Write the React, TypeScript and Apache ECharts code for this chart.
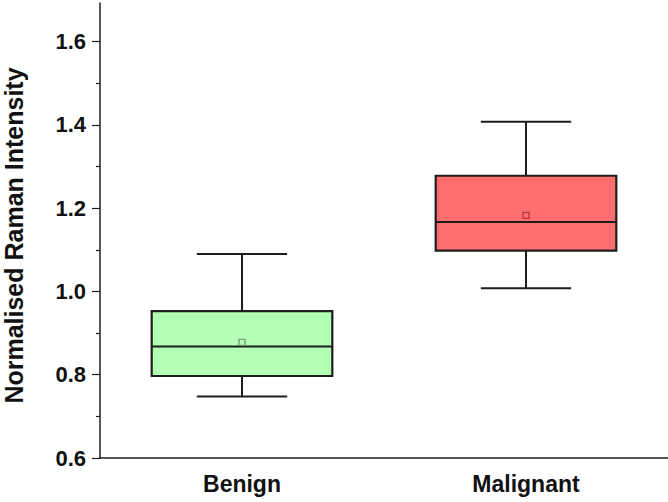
import React, { useEffect, useRef } from "react";
import * as echarts from "echarts";

const categories = ["Benign", "Malignant"];
const whiskerLow = [0.748, 1.008];
const q1 = [0.797, 1.098];
const median = [0.868, 1.167];
const q3 = [0.953, 1.278];
const whiskerHigh = [1.09, 1.408];
const means = [0.878, 1.183];
const majorTicks = [0.6, 0.8, 1.0, 1.2, 1.4, 1.6];
const minorTicks = [0.7, 0.9, 1.1, 1.3, 1.5];

const fills = ["#b3ffb3", "#ff6e6e"];
const meanColors = ["#6f8f6f", "#a83838"];
const FONT = "'Liberation Sans', Arial, Helvetica, sans-serif";

export default function App() {
  const ref = useRef<HTMLDivElement>(null);
  useEffect(() => {
    if (!ref.current) return;
    const chart = echarts.init(ref.current, undefined, { renderer: "svg" });
    const data = categories.map((_, i) => [i, whiskerLow[i], q1[i], median[i], q3[i], whiskerHigh[i], means[i]]);
    const ink = "#1e1e1e";
    chart.setOption({
      animation: false,
      backgroundColor: "#ffffff",
      grid: { left: 100, right: 0, top: 3, bottom: 44, containLabel: false, outerBoundsMode: "none" },
      xAxis: {
        type: "category",
        data: categories,
        axisLine: { lineStyle: { color: ink, width: 1.5 } },
        axisTick: { alignWithLabel: true, length: 4, lineStyle: { color: ink, width: 1.2 } },
        axisLabel: { color: "#111", fontSize: 23, fontWeight: "bold", fontFamily: FONT, margin: 14 },
        splitLine: { show: false },
      },
      yAxis: [
        {
          type: "value",
          min: 0.6,
          max: 1.693,
          interval: 0.2,
          name: "Normalised Raman Intensity",
          nameLocation: "middle",
          nameGap: 74,
          nameTextStyle: { color: "#111", fontSize: 25, fontWeight: "bold", fontFamily: FONT, padding: [0, 10, 0, 0] },
          axisLine: { show: true, lineStyle: { color: ink, width: 1.5 } },
          axisTick: { show: true, length: 8, customValues: majorTicks, lineStyle: { color: ink, width: 1.2 } },
          axisLabel: {
            customValues: majorTicks,
            color: "#111",
            fontSize: 22,
            fontWeight: "bold",
            fontFamily: FONT,
            margin: 14,
            formatter: (v: number) => v.toFixed(1),
          },
          splitLine: { show: false },
        },
        {
          type: "value",
          position: "left",
          min: 0.6,
          max: 1.693,
          interval: 0.1,
          axisLine: { show: false },
          axisTick: { show: true, inside: false, length: 4, customValues: minorTicks, lineStyle: { color: ink, width: 1.2 } },
          axisLabel: { show: false },
          splitLine: { show: false },
        },
      ],
      series: [
        {
          type: "custom",
          yAxisIndex: 0,
          data,
          renderItem: (params: any, api: any) => {
            const idx = api.value(0);
            const band = api.size([1, 0])[0];
            const boxW = band * 0.636;
            const capW = band * 0.318;
            const pMin = api.coord([idx, api.value(1)]);
            const pQ1 = api.coord([idx, api.value(2)]);
            const pMed = api.coord([idx, api.value(3)]);
            const pQ3 = api.coord([idx, api.value(4)]);
            const pMax = api.coord([idx, api.value(5)]);
            const pMean = api.coord([idx, api.value(6)]);
            const cx = pMed[0];
            const lineStyle = { stroke: ink, lineWidth: 2, fill: "none" };
            const ms = 6;
            return {
              type: "group",
              children: [
                { type: "line", shape: { x1: cx, y1: pQ3[1], x2: cx, y2: pMax[1] }, style: lineStyle },
                { type: "line", shape: { x1: cx, y1: pQ1[1], x2: cx, y2: pMin[1] }, style: lineStyle },
                { type: "line", shape: { x1: cx - capW / 2, y1: pMax[1], x2: cx + capW / 2, y2: pMax[1] }, style: lineStyle },
                { type: "line", shape: { x1: cx - capW / 2, y1: pMin[1], x2: cx + capW / 2, y2: pMin[1] }, style: lineStyle },
                {
                  type: "rect",
                  shape: { x: cx - boxW / 2, y: pQ3[1], width: boxW, height: pQ1[1] - pQ3[1] },
                  style: { fill: fills[idx], stroke: ink, lineWidth: 2.2 },
                },
                { type: "line", shape: { x1: cx - boxW / 2, y1: pMed[1], x2: cx + boxW / 2, y2: pMed[1] }, style: lineStyle },
                {
                  type: "rect",
                  shape: { x: pMean[0] - ms / 2, y: pMean[1] - ms / 2, width: ms, height: ms },
                  style: { fill: fills[idx], stroke: meanColors[idx], lineWidth: 1.2 },
                },
              ],
            };
          },
        },
      ],
    });
    return () => chart.dispose();
  }, []);
  return <div ref={ref} style={{ position: "absolute", left: 0, top: 0, width: 668, height: 502 }} />;
}
